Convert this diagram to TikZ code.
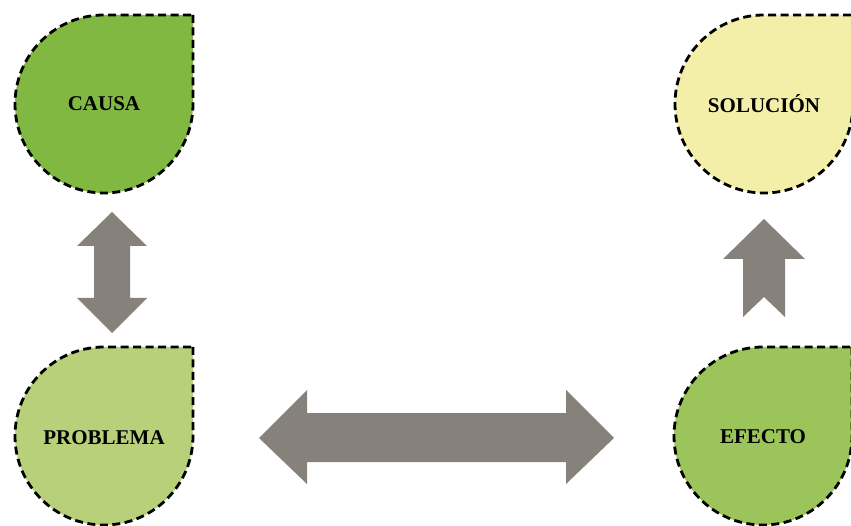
\documentclass[tikz,border=0pt]{standalone}
\usepackage{fontspec}
\setmainfont{Liberation Serif}
\definecolor{causaC}{HTML}{80B842}
\definecolor{probC}{HTML}{B9D07A}
\definecolor{efecC}{HTML}{9BC45B}
\definecolor{soluC}{HTML}{F3EFA9}
\definecolor{arrC}{HTML}{86817A}
\tikzset{
  dropshape/.style={draw=black, line width=2.8pt, dash pattern=on 8pt off 4.5pt},
  droplabel/.style={font=\bfseries\fontsize{21}{24}\selectfont, text=black, inner sep=0pt},
  blockarrow/.style={fill=arrC, draw=none}
}
\newcommand{\dropat}[3]{% center x, center y, colour
  \path[dropshape, fill=#3] (#1+89,#2+89) -- (#1+89,#2) arc[start angle=0, end angle=-270, radius=89] -- cycle;}
\begin{document}
\begin{tikzpicture}[x=1pt,y=1pt]
\useasboundingbox (0,0) rectangle (851,525);
\begin{scope}
\clip (0,0) rectangle (851,525);
\dropat{104}{421}{causaC}
\dropat{104}{89}{probC}
\dropat{763}{89}{efecC}
\dropat{764}{421}{soluC}
\end{scope}
\node[droplabel] (causa) at (104,421) {CAUSA};
\node[droplabel] (problema) at (104,87) {PROBLEMA};
\node[droplabel] (efecto) at (763,88) {EFECTO};
\node[droplabel] (solucion) at (764,421) {SOLUCIÓN};
% vertical double arrow between causa and problema
\fill[blockarrow] (112,313) -- (147,279) -- (130,279) -- (130,227) -- (147,227)
  -- (112,192) -- (77,227) -- (94,227) -- (94,279) -- (77,279) -- cycle;
% horizontal double arrow between problema and efecto
\fill[blockarrow] (259,87) -- (307,135) -- (307,112) -- (566,112) -- (566,135)
  -- (614,87) -- (566,41) -- (566,63) -- (307,63) -- (307,41) -- cycle;
% notched up arrow between efecto and solucion
\fill[blockarrow] (764,306) -- (805,266) -- (785,266) -- (785,208) -- (764,228)
  -- (743,208) -- (743,266) -- (723,266) -- cycle;
\end{tikzpicture}
\end{document}
